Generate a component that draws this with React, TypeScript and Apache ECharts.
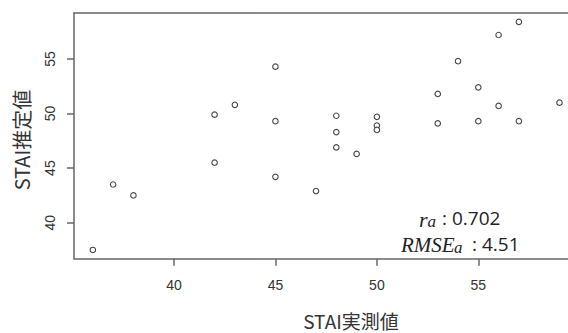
import React, { useEffect, useRef } from "react";
import * as echarts from "echarts";

const measured: number[] = [36, 37, 38, 42, 42, 43, 45, 45, 45, 47, 48, 48, 48, 49, 50, 50, 50, 53, 53, 54, 55, 55, 56, 56, 57, 57, 59];
const estimated: number[] = [37.5, 43.5, 42.5, 49.9, 45.5, 50.8, 54.3, 49.3, 44.2, 42.9, 49.8, 48.3, 46.9, 46.3, 49.7, 48.9, 48.5, 51.8, 49.1, 54.8, 52.4, 49.3, 57.2, 50.7, 58.4, 49.3, 51.0];
const xTicks: number[] = [40, 45, 50, 55];
const yTicks: number[] = [40, 45, 50, 55];
const xTitle = "STAI実測値";
const yTitle = "STAI推定値";
const rValue = "0.702";
const rmseValue = "4.51";

export default function App() {
  const ref = useRef<HTMLDivElement>(null);
  useEffect(() => {
    if (!ref.current) return;
    const chart = echarts.init(ref.current, null, { renderer: "svg" });
    const axisColor = "#666";
    const labelFont = "Liberation Sans";
    const data = measured.map((x, i) => [x, estimated[i]]);
    const xMin = 35.071;
    const xMax = 59.42;
    chart.setOption({
      animation: false,
      backgroundColor: "#fff",
      grid: {
        left: 74,
        top: 13,
        right: 0,
        height: 245.7,
        show: false,
      },
      xAxis: [
        {
          type: "value",
          min: xMin,
          max: xMax,
          splitLine: { show: false },
          axisLine: { show: true, lineStyle: { color: axisColor, width: 1.5 } },
          axisTick: { show: true, length: 7, lineStyle: { color: axisColor, width: 1.5 }, customValues: xTicks },
          axisLabel: { customValues: xTicks, margin: 19, fontSize: 14, fontFamily: labelFont, color: "#333" },
        },
        {
          type: "value",
          position: "top",
          min: xMin,
          max: xMax,
          splitLine: { show: false },
          axisLine: { show: true, lineStyle: { color: axisColor, width: 1.5 } },
          axisTick: { show: false },
          axisLabel: { show: false },
        },
      ],
      yAxis: {
        type: "value",
        min: 36.7,
        max: 59.215,
        splitLine: { show: false },
        axisLine: { show: true, lineStyle: { color: axisColor, width: 1.5 } },
        axisTick: { show: true, length: 7, lineStyle: { color: axisColor, width: 1.5 }, customValues: yTicks },
        axisLabel: { customValues: yTicks, rotate: 90, margin: 17, fontSize: 14, fontFamily: labelFont, color: "#333" },
      },
      series: [
        {
          type: "scatter",
          xAxisIndex: 0,
          data,
          symbol: "circle",
          symbolSize: 5.5,
          itemStyle: { color: "#fff", borderColor: "#444", borderWidth: 1.1, opacity: 1 },
          silent: true,
        },
      ],
      graphic: [
        {
          type: "text",
          x: 351,
          y: 320,
          style: { text: xTitle, font: '19px "Noto Sans CJK JP"', lineHeight: 19, fill: "#333", align: "center", verticalAlign: "middle" },
        },
        {
          type: "text",
          x: 21,
          y: 140,
          rotation: Math.PI / 2,
          style: { text: yTitle, font: '20px "Noto Sans CJK JP"', lineHeight: 20, fill: "#333", align: "center", verticalAlign: "middle" },
        },
        // r_a : 0.702
        { type: "text", x: 419, y: 208, style: { text: "r", font: 'italic 22px "Liberation Serif"', fill: "#222", verticalAlign: "alphabetic" } },
        { type: "text", x: 427.5, y: 212.5, style: { text: "a", font: 'italic 17px "Liberation Serif"', fill: "#222", verticalAlign: "alphabetic" } },
        { type: "text", x: 442, y: 208, style: { text: ": " + rValue, font: '19px "Open Sans"', fill: "#222", verticalAlign: "alphabetic" } },
        // RMSE_a : 4.51
        { type: "text", x: 401, y: 234, style: { text: "RMSE", font: 'italic 21px "Liberation Serif"', fill: "#222", verticalAlign: "alphabetic" } },
        { type: "text", x: 454, y: 238.5, style: { text: "a", font: 'italic 17px "Liberation Serif"', fill: "#222", verticalAlign: "alphabetic" } },
        { type: "text", x: 472, y: 234, style: { text: ": " + rmseValue, font: '19px "Open Sans"', fill: "#222", verticalAlign: "alphabetic" } },
      ],
    });
    return () => chart.dispose();
  }, []);
  return <div ref={ref} style={{ position: "fixed", left: 0, top: 0, width: 568, height: 333 }} />;
}
